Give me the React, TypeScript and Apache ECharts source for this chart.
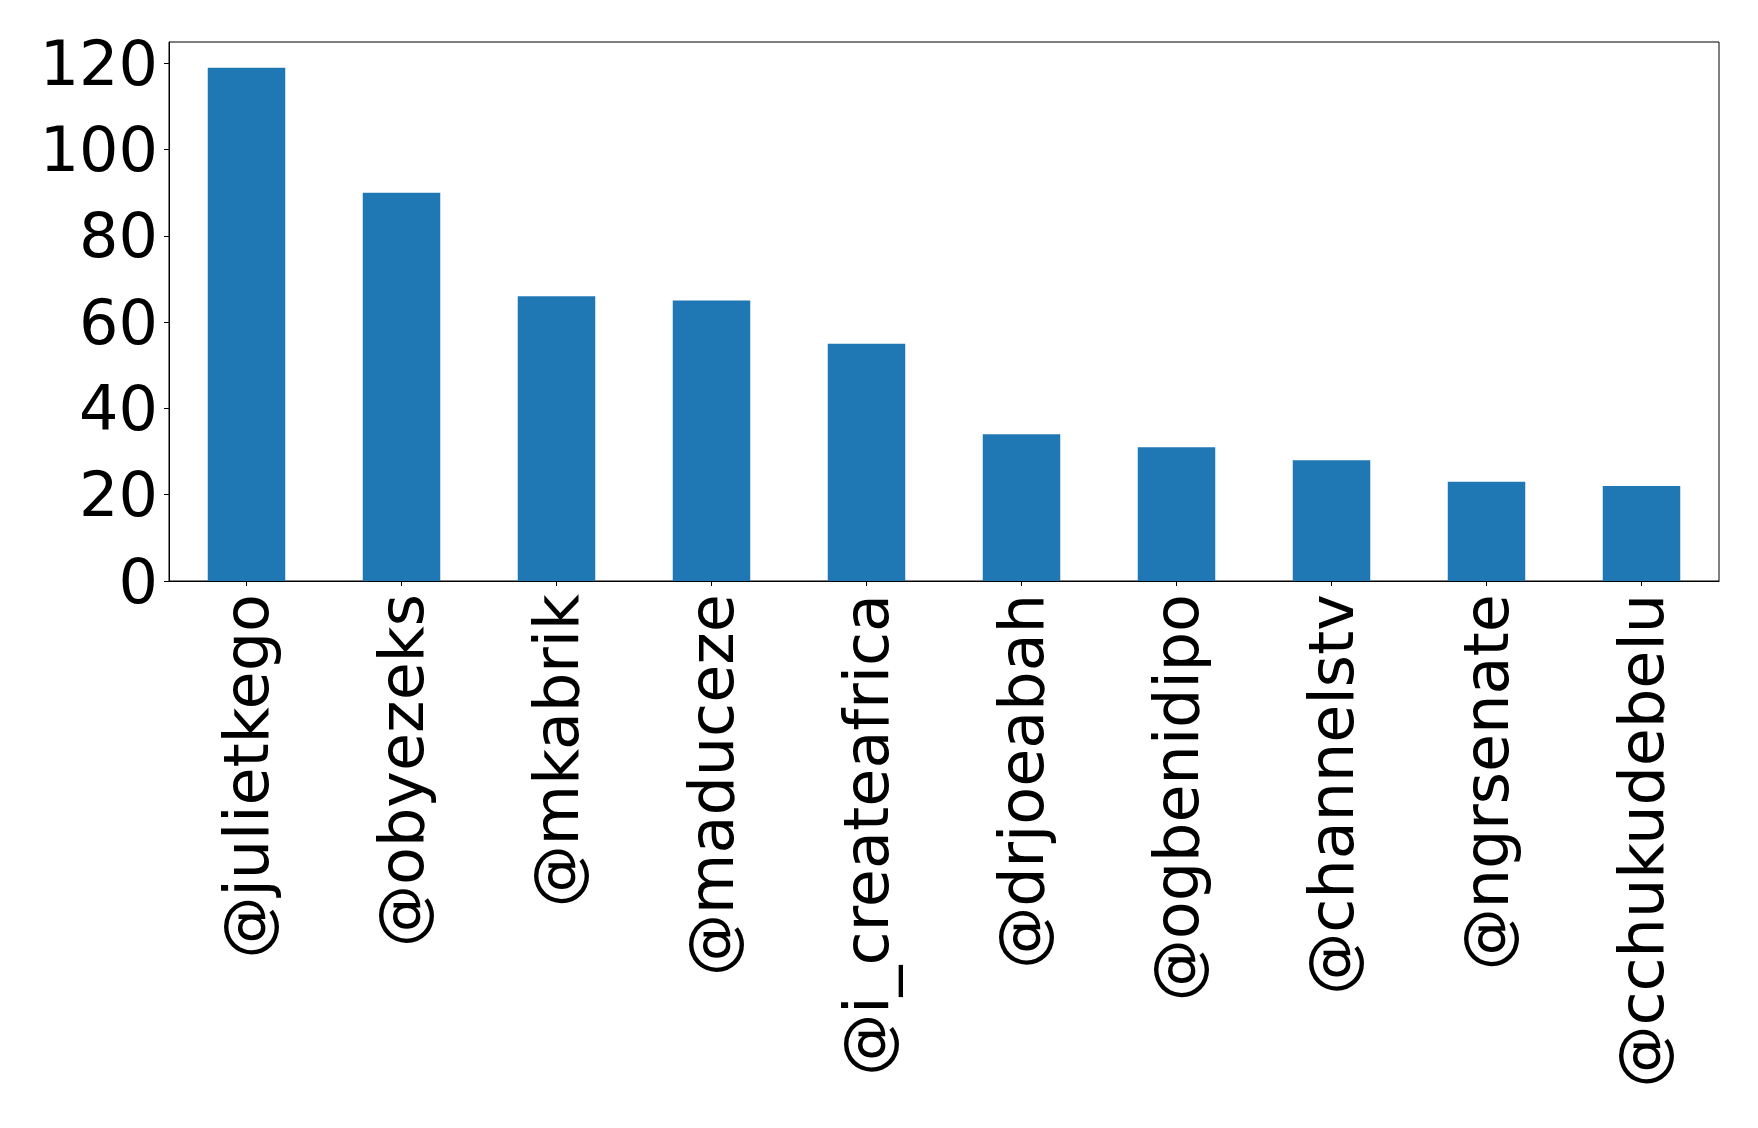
import React, { useEffect, useRef } from "react";
import * as echarts from "echarts";

const categories = [
  "@julietkego",
  "@obyezeks",
  "@mkabrik",
  "@maduceze",
  "@i_createafrica",
  "@drjoeabah",
  "@ogbenidipo",
  "@channelstv",
  "@ngrsenate",
  "@cchukudebelu",
];
const counts = [119, 90, 66, 65, 55, 34, 31, 28, 23, 22];
const yTicks = [0, 20, 40, 60, 80, 100, 120];

export default function App() {
  const ref = useRef<HTMLDivElement>(null);
  useEffect(() => {
    if (!ref.current) return;
    const chart = echarts.init(ref.current, null, { renderer: "svg" });
    const font = "DejaVu Sans";
    chart.setOption({
      animation: false,
      backgroundColor: "#ffffff",
      grid: {
        left: 169,
        right: 39,
        top: 42,
        bottom: 547,
        show: true,
        borderColor: "#000000",
        borderWidth: 1,
        backgroundColor: "transparent",
      },
      xAxis: {
        type: "category",
        data: categories,
        axisLine: { show: true, lineStyle: { color: "#000", width: 1 } },
        axisTick: {
          show: true,
          alignWithLabel: true,
          length: 5,
          lineStyle: { color: "#000", width: 1 },
        },
        axisLabel: {
          rotate: 90,
          interval: 0,
          margin: 13,
          fontFamily: font,
          fontSize: 62,
          color: "#000",
        },
        splitLine: { show: false },
      },
      yAxis: {
        type: "value",
        min: 0,
        max: 124.95,
        interval: 20,
        axisLine: { show: true, lineStyle: { color: "#000", width: 1 } },
        axisTick: {
          show: true,
          length: 5,
          customValues: yTicks,
          lineStyle: { color: "#000", width: 1 },
        },
        axisLabel: {
          customValues: yTicks,
          margin: 11,
          fontFamily: font,
          fontSize: 62,
          color: "#000",
        },
        splitLine: { show: false },
      },
      series: [
        {
          type: "bar",
          data: counts,
          barCategoryGap: "50%",
          itemStyle: { color: "#1f77b4" },
        },
      ],
    });
    return () => chart.dispose();
  }, []);
  return (
    <div
      ref={ref}
      style={{ position: "fixed", left: 0, top: 0, width: 1758, height: 1128, background: "#fff" }}
    />
  );
}
